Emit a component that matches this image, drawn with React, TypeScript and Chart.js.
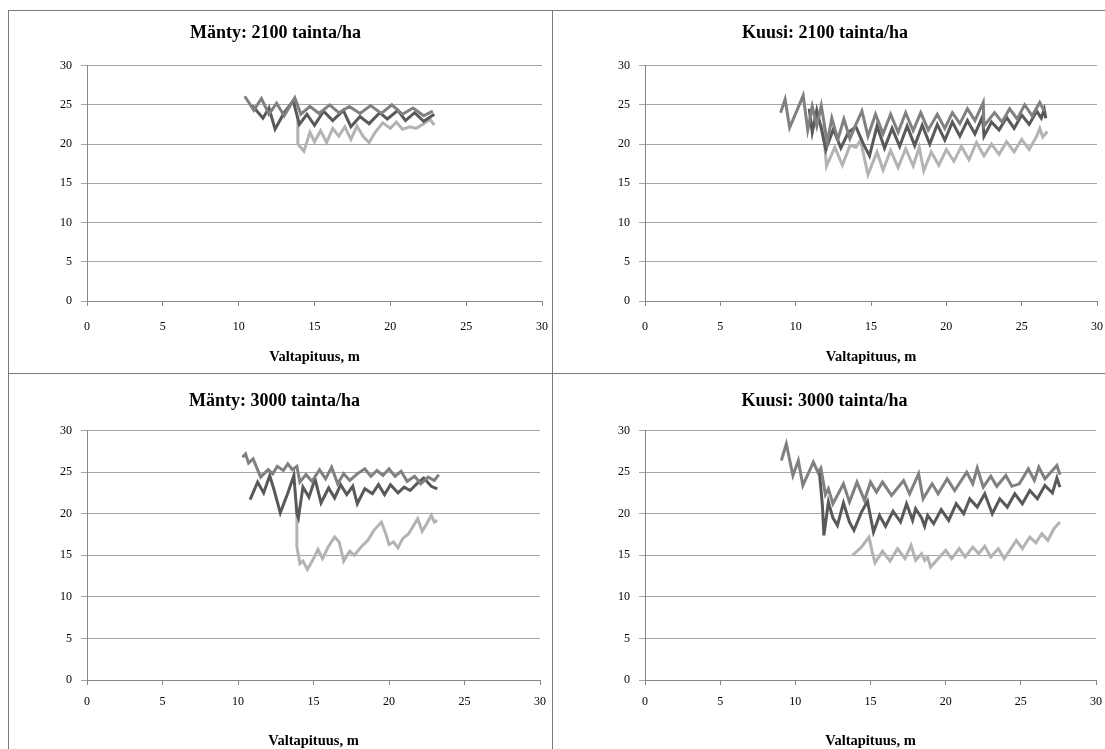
import React, { useEffect, useRef } from "react";
import { Chart, registerables } from "chart.js";
Chart.register(...registerables);

// ---------- text ----------
const panelTitles = [
  "Mänty: 2100 tainta/ha",
  "Kuusi: 2100 tainta/ha",
  "Mänty: 3000 tainta/ha",
  "Kuusi: 3000 tainta/ha",
];
const xAxisTitle = "Valtapituus, m";
const axisMin = 0;
const axisMax = 30;
const axisStep = 5;

// ---------- Mänty 2100 ----------
const m2100MedX = [10.4, 11.0, 11.5, 12.0, 12.5, 13.0, 13.7, 14.1, 14.7, 15.3, 16.0, 16.6, 17.3, 18.0, 18.7, 19.4, 20.1, 20.8, 21.5, 22.2, 22.8];
const m2100MedY = [26.1, 24.3, 25.8, 23.8, 25.2, 23.6, 25.9, 23.8, 24.8, 23.9, 25.0, 24.0, 24.8, 23.9, 24.9, 23.9, 25.0, 23.8, 24.6, 23.6, 24.2];
const m2100DarkX = [10.9, 11.6, 12.0, 12.4, 13.0, 13.6, 14.0, 14.5, 15.0, 15.6, 16.2, 16.9, 17.4, 18.0, 18.6, 19.3, 19.8, 20.5, 21.0, 21.6, 22.2, 22.9];
const m2100DarkY = [24.9, 23.3, 24.6, 21.9, 24.0, 25.5, 22.5, 23.8, 22.4, 24.2, 23.0, 24.3, 22.2, 23.5, 22.6, 24.0, 23.2, 24.3, 23.0, 24.0, 22.9, 23.8];
const m2100LightX = [13.9, 13.9, 14.3, 14.7, 15.0, 15.4, 15.8, 16.2, 16.6, 17.0, 17.4, 17.8, 18.2, 18.6, 19.0, 19.5, 20.0, 20.4, 20.8, 21.3, 21.7, 22.2, 22.6, 22.9];
const m2100LightY = [23.6, 20.0, 19.1, 21.5, 20.3, 21.7, 20.2, 22.0, 21.0, 22.2, 20.6, 22.3, 21.0, 20.2, 21.5, 22.7, 22.0, 22.8, 21.9, 22.2, 22.0, 22.6, 23.2, 22.4];

// ---------- Kuusi 2100 ----------
const k2100MedX = [9.0, 9.3, 9.6, 10.2, 10.5, 10.8, 11.1, 11.4, 11.7, 12.1, 12.4, 12.8, 13.2, 13.6, 14.0, 14.4, 14.8, 15.3, 15.8, 16.3, 16.8, 17.3, 17.8, 18.3, 18.8, 19.4, 19.9, 20.4, 20.9, 21.4, 21.9, 22.45, 22.5, 23.2, 23.7, 24.2, 24.7, 25.2, 25.7, 26.2, 26.5];
const k2100MedY = [24.0, 25.7, 22.1, 24.8, 26.2, 21.8, 24.8, 22.3, 24.9, 20.2, 23.3, 20.6, 23.2, 20.7, 22.5, 24.2, 21.0, 23.8, 21.3, 23.8, 21.5, 24.0, 21.7, 24.0, 21.8, 23.8, 22.0, 24.0, 22.6, 24.5, 23.0, 25.3, 22.3, 24.0, 22.8, 24.5, 23.2, 25.0, 23.6, 25.3, 24.2];
const k2100DarkX = [10.9, 11.1, 11.4, 11.7, 12.0, 12.5, 13.0, 13.5, 14.0, 14.5, 14.9, 15.4, 15.9, 16.4, 16.9, 17.4, 17.9, 18.4, 18.9, 19.4, 19.9, 20.4, 20.9, 21.4, 21.9, 22.4, 22.5, 23.0, 23.5, 24.0, 24.5, 25.0, 25.5, 26.0, 26.3, 26.5, 26.6];
const k2100DarkY = [24.5, 21.5, 24.3, 22.0, 19.3, 21.9, 19.5, 21.5, 22.2, 20.0, 18.5, 22.3, 19.5, 22.0, 19.7, 22.3, 19.8, 22.4, 20.0, 22.5, 20.5, 22.8, 21.0, 23.0, 21.3, 23.5, 21.0, 22.8, 21.8, 23.4, 22.0, 23.7, 22.5, 24.2, 23.3, 24.4, 23.3];
const k2100LightX = [11.8, 12.05, 12.6, 13.1, 13.6, 14.0, 14.3, 14.8, 15.4, 15.8, 16.3, 16.8, 17.3, 17.8, 18.2, 18.5, 19.0, 19.5, 20.0, 20.5, 21.0, 21.5, 22.0, 22.5, 23.0, 23.5, 24.0, 24.5, 25.0, 25.5, 26.0, 26.2, 26.4, 26.7];
const k2100LightY = [22.5, 17.2, 19.6, 17.3, 19.8, 19.6, 20.5, 16.1, 19.0, 16.7, 19.2, 17.0, 19.4, 17.2, 19.6, 16.6, 19.0, 17.3, 19.3, 17.8, 19.7, 18.0, 20.2, 18.5, 20.0, 18.7, 20.3, 19.0, 20.6, 19.3, 21.0, 22.0, 20.9, 21.6];

// ---------- Mänty 3000 ----------
const m3000MedX = [10.3, 10.5, 10.7, 11.0, 11.5, 12.0, 12.3, 12.6, 13.0, 13.3, 13.6, 13.9, 14.1, 14.5, 14.9, 15.4, 15.8, 16.2, 16.6, 17.0, 17.4, 17.9, 18.4, 18.8, 19.2, 19.6, 20.0, 20.4, 20.8, 21.2, 21.7, 22.1, 22.6, 23.0, 23.3];
const m3000MedY = [26.8, 27.2, 26.1, 26.6, 24.4, 25.3, 24.8, 25.7, 25.2, 26.0, 25.3, 25.7, 23.8, 24.7, 23.9, 25.3, 24.2, 25.6, 23.6, 24.8, 24.0, 24.8, 25.4, 24.5, 25.2, 24.6, 25.4, 24.5, 25.1, 23.9, 24.5, 23.6, 24.4, 24.0, 24.7];
const m3000DarkX = [10.8, 11.3, 11.7, 12.1, 12.4, 12.8, 13.3, 13.7, 13.9, 14.0, 14.3, 14.7, 15.1, 15.5, 16.0, 16.4, 16.8, 17.2, 17.6, 17.9, 18.4, 18.9, 19.3, 19.7, 20.1, 20.6, 21.0, 21.4, 21.9, 22.3, 22.8, 23.2];
const m3000DarkY = [21.7, 23.8, 22.5, 24.6, 22.8, 20.1, 22.5, 24.6, 20.0, 19.5, 23.2, 22.0, 24.2, 21.3, 23.1, 21.9, 23.5, 22.3, 23.3, 21.2, 23.0, 22.4, 23.5, 22.3, 23.5, 22.5, 23.2, 22.8, 23.7, 24.3, 23.3, 23.0];
const m3000LightX = [13.9, 13.9, 14.1, 14.3, 14.6, 15.0, 15.3, 15.6, 16.0, 16.4, 16.7, 17.0, 17.4, 17.7, 18.2, 18.6, 19.0, 19.5, 19.8, 20.0, 20.3, 20.6, 20.9, 21.3, 21.6, 21.9, 22.2, 22.5, 22.8, 23.0, 23.2];
const m3000LightY = [20.5, 16.0, 14.0, 14.3, 13.3, 14.6, 15.7, 14.6, 16.1, 17.2, 16.6, 14.3, 15.5, 15.0, 16.1, 16.8, 18.0, 19.0, 17.5, 16.3, 16.6, 15.9, 17.0, 17.6, 18.5, 19.4, 17.9, 18.8, 19.8, 19.0, 19.2];

// ---------- Kuusi 3000 ----------
const k3000MedX = [9.07, 9.4, 9.84, 10.2, 10.5, 11.2, 11.5, 11.7, 12.0, 12.2, 12.5, 13.2, 13.6, 14.1, 14.6, 15.0, 15.4, 15.8, 16.4, 17.2, 17.6, 18.2, 18.5, 19.1, 19.5, 20.1, 20.6, 21.4, 21.8, 22.1, 22.5, 23.0, 23.4, 24.0, 24.4, 24.9, 25.5, 25.9, 26.2, 26.6, 27.4, 27.6];
const k3000MedY = [26.4, 28.4, 24.6, 26.4, 23.4, 26.2, 25.0, 25.5, 22.3, 23.0, 21.2, 23.6, 21.4, 23.8, 21.6, 23.8, 22.6, 23.8, 22.2, 24.0, 22.4, 24.8, 21.8, 23.6, 22.4, 24.2, 22.8, 25.0, 23.6, 25.5, 23.2, 24.5, 23.3, 24.6, 23.3, 23.6, 25.4, 24.0, 25.6, 24.2, 25.8, 24.7];
const k3000DarkX = [11.6, 11.8, 11.9, 12.2, 12.5, 12.8, 13.2, 13.6, 13.9, 14.4, 14.8, 15.2, 15.6, 16.0, 16.5, 17.0, 17.4, 17.8, 18.0, 18.4, 18.6, 18.8, 19.2, 19.7, 20.2, 20.7, 21.2, 21.6, 22.1, 22.6, 23.1, 23.6, 24.1, 24.6, 25.1, 25.6, 26.1, 26.6, 27.1, 27.4, 27.6];
const k3000DarkY = [25.0, 21.0, 17.4, 21.4, 19.5, 18.6, 21.3, 19.0, 18.0, 20.2, 21.5, 17.8, 19.8, 18.5, 20.3, 19.0, 21.2, 19.2, 20.6, 19.5, 18.5, 19.8, 18.8, 20.5, 19.2, 21.2, 20.0, 21.8, 20.8, 22.4, 20.0, 21.8, 20.8, 22.4, 21.2, 22.8, 21.8, 23.4, 22.5, 24.3, 23.2];
const k3000LightX = [13.8, 14.4, 14.9, 15.1, 15.3, 15.8, 16.3, 16.8, 17.3, 17.7, 18.0, 18.4, 18.6, 18.8, 19.0, 19.5, 20.0, 20.4, 20.9, 21.3, 21.8, 22.2, 22.6, 23.0, 23.5, 23.9, 24.3, 24.7, 25.1, 25.6, 26.0, 26.4, 26.8, 27.2, 27.6];
const k3000LightY = [15.0, 16.0, 17.2, 15.5, 14.1, 15.5, 14.3, 15.8, 14.6, 16.2, 14.4, 15.2, 14.4, 14.8, 13.6, 14.6, 15.6, 14.6, 15.8, 14.8, 16.0, 15.2, 16.1, 14.8, 15.8, 14.6, 15.7, 16.8, 15.8, 17.2, 16.5, 17.6, 16.8, 18.2, 19.0];

// ---------- styles ----------
const DARK = "#595959";
const MED = "#808080";
const LIGHT = "#b3b3b3";
const SERIF = "'Liberation Serif', 'Times New Roman', serif";

type Series = { x: number[]; y: number[]; color: string };
type PanelCfg = {
  title: string;
  series: Series[];
  left: number; top: number; width: number; height: number;
  yAxisW: number; xAxisH: number; padRight: number;
  titleTop: number; titleBottom: number; xTitleBottom: number; xTickPad: number;
};

const panels: PanelCfg[] = [
  {
    title: panelTitles[0],
    series: [
      { x: m2100MedX, y: m2100MedY, color: MED },
      { x: m2100DarkX, y: m2100DarkY, color: DARK },
      { x: m2100LightX, y: m2100LightY, color: LIGHT },
    ],
    left: 0, top: 0, width: 545, height: 364,
    yAxisW: 78, xAxisH: 72, padRight: 10, titleTop: 11.5, titleBottom: 21.5, xTitleBottom: 7, xTickPad: 14,
  },
  {
    title: panelTitles[1],
    series: [
      { x: k2100MedX, y: k2100MedY, color: MED },
      { x: k2100DarkX, y: k2100DarkY, color: DARK },
      { x: k2100LightX, y: k2100LightY, color: LIGHT },
    ],
    left: 544, top: 0, width: 560, height: 364,
    yAxisW: 92, xAxisH: 72, padRight: 14, titleTop: 11.5, titleBottom: 21.5, xTitleBottom: 7, xTickPad: 14,
  },
  {
    title: panelTitles[2],
    series: [
      { x: m3000MedX, y: m3000MedY, color: MED },
      { x: m3000DarkX, y: m3000DarkY, color: DARK },
      { x: m3000LightX, y: m3000LightY, color: LIGHT },
    ],
    left: 0, top: 363, width: 545, height: 382,
    yAxisW: 78, xAxisH: 74, padRight: 12, titleTop: 16.5, titleBottom: 18.5, xTitleBottom: 4, xTickPad: 10,
  },
  {
    title: panelTitles[3],
    series: [
      { x: k3000MedX, y: k3000MedY, color: MED },
      { x: k3000DarkX, y: k3000DarkY, color: DARK },
      { x: k3000LightX, y: k3000LightY, color: LIGHT },
    ],
    left: 544, top: 363, width: 560, height: 382,
    yAxisW: 92, xAxisH: 74, padRight: 15, titleTop: 16.5, titleBottom: 18.5, xTitleBottom: 4, xTickPad: 10,
  },
];

function Panel({ cfg }: { cfg: PanelCfg }) {
  const ref = useRef<HTMLCanvasElement>(null);
  const cw = cfg.width - 2;
  const ch = cfg.height - 2;
  useEffect(() => {
    const chart = new Chart(ref.current as HTMLCanvasElement, {
      type: "scatter",
      data: {
        datasets: cfg.series.map((s) => ({
          data: s.x.map((x, i) => ({ x, y: s.y[i] })),
          showLine: true,
          borderColor: s.color,
          backgroundColor: s.color,
          borderWidth: 3,
          pointRadius: 0,
          tension: 0,
        })),
      },
      options: {
        animation: false,
        responsive: false,
        maintainAspectRatio: false,
        layout: { padding: { left: 0, right: cfg.padRight, top: 0, bottom: 0 } },
        plugins: {
          legend: { display: false },
          tooltip: { enabled: false },
          title: {
            display: true,
            text: cfg.title,
            color: "#000",
            font: { family: SERIF, size: 18, weight: "bold" },
            padding: { top: cfg.titleTop, bottom: cfg.titleBottom },
          },
        },
        scales: {
          x: {
            type: "linear",
            min: axisMin,
            max: axisMax,
            ticks: { stepSize: axisStep, color: "#000", font: { family: SERIF, size: 12 }, padding: cfg.xTickPad, maxRotation: 0 },
            grid: { drawOnChartArea: false, drawTicks: true, tickLength: 5, color: "#868686" },
            border: { display: true, color: "#868686" },
            title: {
              display: true,
              text: xAxisTitle,
              color: "#000",
              font: { family: SERIF, size: 14.5, weight: "bold" },
              padding: { top: 4, bottom: cfg.xTitleBottom },
            },
            afterFit: (s: any) => {
              s.height = cfg.xAxisH;
              s.paddingRight = 0;
              s.paddingLeft = 0;
            },
          },
          y: {
            type: "linear",
            min: axisMin,
            max: axisMax,
            ticks: { stepSize: axisStep, color: "#000", font: { family: SERIF, size: 12 }, padding: 9 },
            grid: { drawOnChartArea: true, drawTicks: true, tickLength: 6, color: "#a6a6a6" },
            border: { display: true, color: "#868686" },
            afterFit: (s: any) => { s.width = cfg.yAxisW; },
          },
        },
      } as any,
    });
    return () => chart.destroy();
  }, []);
  return (
    <div
      style={{
        position: "absolute",
        left: cfg.left,
        top: cfg.top,
        width: cfg.width,
        height: cfg.height,
        boxSizing: "border-box",
        border: "1px solid #7a7a7a",
        background: "#fff",
      }}
    >
      <canvas ref={ref} width={cw} height={ch} style={{ display: "block", width: cw, height: ch }} />
    </div>
  );
}

export default function App() {
  return (
    <div
      style={{
        position: "fixed",
        left: 8,
        top: 10,
        width: 1097,
        height: 739,
        overflow: "hidden",
        background: "#fff",
      }}
    >
      {panels.map((p, i) => (
        <Panel key={i} cfg={p} />
      ))}
    </div>
  );
}
